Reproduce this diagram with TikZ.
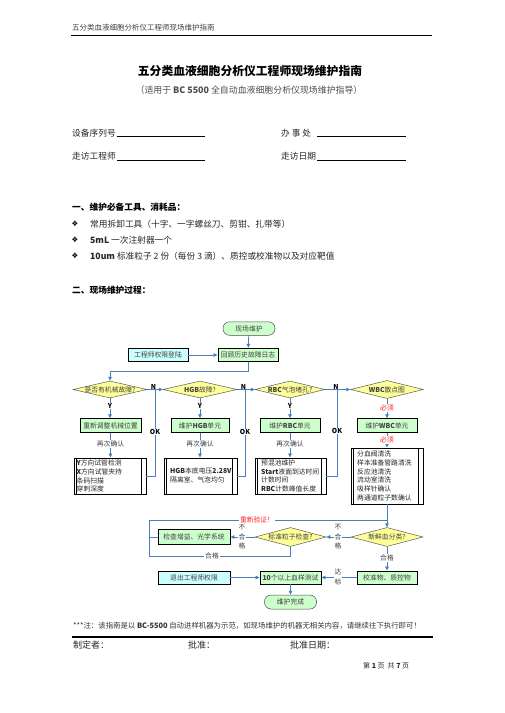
\documentclass[tikz,border=0pt]{standalone}
\usepackage{fontspec}
\setmainfont{Noto Sans CJK SC}
\newfontfamily\dejavu{DejaVu Sans}
\usetikzlibrary{shapes.geometric,arrows.meta}
\definecolor{lgreen}{HTML}{CCFFCC}
\definecolor{lcyan}{HTML}{CCFFFF}
\definecolor{lyellow}{HTML}{FFFF99}
\definecolor{conblue}{HTML}{4A7EBB}
\definecolor{redtxt}{HTML}{FF2020}
\definecolor{txtgray}{HTML}{404040}
\begin{document}
\begin{tikzpicture}[x=1pt,y=-1pt,
  fc/.style={font=\fontsize{6.8}{8.8}\selectfont},
  gbox/.style={draw=black, line width=0.9pt, fill=lgreen, minimum height=13.5, inner sep=0, fc, text=txtgray},
  cbox/.style={gbox, fill=lcyan},
  term/.style={draw=black!70, line width=0.5pt, fill=lgreen, rounded corners=6.5, minimum width=52, minimum height=13.5, inner sep=0, fc, text=txtgray},
  diam/.style={diamond, draw=black!65, line width=0.5pt, fill=lyellow, inner sep=0},
  dtext/.style={fc, text=txtgray, inner sep=0},
  conn/.style={draw=conblue, line width=0.8pt},
  arr/.style={conn, -{Triangle[length=4pt,width=3.6pt]}},
  lab/.style={fill=white, inner sep=0.8pt, fc, text=txtgray},
  yn/.style={inner sep=0.5pt, fc, font=\fontsize{6.8}{8.8}\selectfont\bfseries, text=black},
  redlab/.style={lab, text=redtxt},
  stack/.style={lab, align=center, font=\fontsize{6.8}{9.5}\selectfont},
  predef/.style={draw, line width=0.9pt, fill=white, inner sep=0,
    path picture={\draw[line width=0.9pt]
      ([xshift=2.5pt]path picture bounding box.north west) -- ([xshift=2.5pt]path picture bounding box.south west)
      ([xshift=-4.5pt]path picture bounding box.north east) -- ([xshift=-4.5pt]path picture bounding box.south east);}},
  ltext/.style={fc, align=left, inner sep=0, text=black!85, anchor=west},
  body/.style={font=\fontsize{8.7}{10}\selectfont, inner sep=0, anchor=west, text=black!85},
  uline/.style={line width=0.9pt}
]
\useasboundingbox (0,0) rectangle (504,713);

% header
\node[inner sep=0, anchor=west, font=\fontsize{7.5}{9}\selectfont, text=black!75] (hdr) at (72,28) {五分类血液细胞分析仪工程师现场维护指南};
\draw[line width=0.9pt] (71,35) -- (432,35);

% title
\node[inner sep=0, font=\fontsize{11.8}{14}\selectfont\bfseries] (title) at (250,71) {五分类血液细胞分析仪工程师现场维护指南};
\node[inner sep=0, font=\fontsize{8.9}{11}\selectfont, text=black!70] (subtitle) at (249,90) {（适用于 {\bfseries BC 5500} 全自动血液细胞分析仪现场维护指导）};

% fields
\node[body] (f1) at (72,133) {设备序列号};
\draw[uline] (117,136.5) -- (205,136.5);
\node[body] (f2) at (281,133) {办\ 事\ 处};
\draw[uline] (317,136.5) -- (406,136.5);
\node[body] (f3) at (72,156) {走访工程师};
\draw[uline] (117,160) -- (205,160);
\node[body] (f4) at (281,156) {走访日期};
\draw[uline] (317,160) -- (406,160);

% section 1
\node[body, font=\fontsize{8.7}{10}\selectfont\bfseries, text=black] (s1) at (72,207) {一、维护必备工具、消耗品：};
\node[inner sep=0, font=\dejavu\fontsize{7.5}{9}\selectfont] (bul1) at (75,224) {❖};
\node[inner sep=0, font=\dejavu\fontsize{7.5}{9}\selectfont] (bul2) at (75,240) {❖};
\node[inner sep=0, font=\dejavu\fontsize{7.5}{9}\selectfont] (bul3) at (75,256) {❖};
\node[body] (t1) at (90,224) {常用拆卸工具（十字、一字螺丝刀、剪钳、扎带等）};
\node[body] (t2) at (90,240) {{\bfseries 5mL} 一次注射器一个};
\node[body] (t3) at (90,256) {{\bfseries 10um} 标准粒子 2 份（每份 3 滴）、质控或校准物以及对应靶值};
\node[body, font=\fontsize{8.7}{10}\selectfont\bfseries, text=black] (s2) at (72,290) {二、现场维护过程：};

% flowchart top
\node[term] (start) at (249,328.5) {现场维护};
\node[gbox, minimum width=60] (rev) at (248,355) {回顾历史故障日志};
\node[cbox, minimum width=60] (login) at (158,355) {工程师权限登陆};
\draw[arr] (start) -- (rev);
\draw[arr] (login) -- (rev);

% diamonds
\node[diam, minimum width=74, minimum height=17] (d1) at (110,389.5) {};
\node[dtext] at (d1) {是否有机械故障?};
\node[diam, minimum width=74, minimum height=17] (d2) at (200,389.5) {};
\node[dtext] at (d2) {{\bfseries HGB}故障?};
\node[diam, minimum width=70, minimum height=17] (d3) at (290,389.5) {};
\node[dtext] at (d3) {{\bfseries RBC}气泡堵孔?};
\node[diam, minimum width=73, minimum height=18] (d4) at (387,389.5) {};
\node[dtext] at (d4) {{\bfseries WBC}散点图};

\draw[arr] (rev.south) -- (248,371) -- (110,371) -- (d1.north);
\draw[arr] (d1.east) -- (d2.west);
\draw[arr] (d2.east) -- (d3.west);
\draw[arr] (d3.east) -- (d4.west);

% row boxes
\node[gbox, minimum width=61] (b1) at (110.5,425.5) {重新调整机械位置};
\node[gbox, minimum width=58] (b2) at (200,425.5) {维护{\bfseries HGB}单元};
\node[gbox, minimum width=60] (b3) at (290,425.5) {维护{\bfseries RBC}单元};
\node[gbox, minimum width=60] (b4) at (387,425.5) {维护{\bfseries WBC}单元};

% list boxes
\node[predef, minimum width=72, minimum height=36] (L1) at (110,476) {};
\node[ltext] at (76.5,476) {{\bfseries Y}方向试管检测\\{\bfseries X}方向试管夹持\\条码扫描\\穿刺深度};
\node[predef, minimum width=73, minimum height=36] (L2) at (200.5,476) {};
\node[ltext] at (170,475.5) {{\bfseries HGB}本底电压{\bfseries 2.28V}\\隔离室、气泡均匀};
\node[predef, minimum width=71, minimum height=36] (L3) at (290.5,476) {};
\node[ltext] at (261,476) {预混池维护\\{\bfseries Start}液面到达时间\\计数时间\\{\bfseries RBC}计数峰值长度};
\node[predef, minimum width=72, minimum height=56] (L4) at (387,476) {};
\node[ltext] at (357,476) {分血阀清洗\\样本准备管路清洗\\反应池清洗\\流动室清洗\\吸样针确认\\两通道粒子数确认};

% vertical connectors
\draw[arr] (d1.south) -- (d1.south |- b1.north);
\draw[arr] (d2.south) -- (d2.south |- b2.north);
\draw[arr] (d3.south) -- (d3.south |- b3.north);
\draw[arr] (d4.south) -- (d4.south |- b4.north);
\draw[arr] (b1.south) -- (b1.south |- L1.north);
\draw[arr] (b2.south) -- (b2.south |- L2.north);
\draw[arr] (b3.south) -- (b3.south |- L3.north);
\draw[arr] (b4.south) -- (b4.south |- L4.north);
\node[yn, fill=white] (y1) at (110,406) {Y};
\node[yn, fill=white] (y2) at (200,406) {Y};
\node[yn, fill=white] (y3) at (290,406) {Y};
\node[redlab] (must1) at (387,408) {必须};
\node[lab] (c1) at (110.5,444) {再次确认};
\node[lab] (c2) at (200,444) {再次确认};
\node[lab] (c3) at (290,444) {再次确认};
\node[redlab] (must2) at (387,440) {必须};

% OK returns
\draw[conn] (L1.east) -| (155,389.5);
\draw[conn] (L2.east) -| (245,389.5);
\draw[conn] (L3.east) -| (337,389.5);
\node[yn, fill=white] (ok1) at (155,432) {OK};
\node[yn, fill=white] (ok2) at (245,432) {OK};
\node[yn, fill=white] (ok3) at (337,431) {OK};
\node[yn] (n1) at (153.5,386.5) {N};
\node[yn] (n2) at (243.5,386.5) {N};
\node[yn] (n3) at (336,386.5) {N};

% lower part
\node[diam, minimum width=72, minimum height=19] (d5) at (387,537) {};
\node[dtext] at (d5) {新鲜血分类?};
\node[diam, minimum width=71, minimum height=19] (d6) at (290.5,537) {};
\node[dtext] at (d6) {标准粒子检查?};
\node[gbox, minimum width=72, minimum height=15] (chk) at (194,537) {检查增益、光学系统};
\node[gbox, minimum width=60, minimum height=13] (qc) at (387,577.5) {校准物、质控物};
\node[gbox, minimum width=61, minimum height=13] (test) at (290.5,577.5) {{\bfseries 10}个以上血样测试};
\node[cbox, minimum width=72, minimum height=13] (exit) at (194,577.5) {退出工程师权限};
\node[term, minimum height=14] (end) at (290.5,602) {维护完成};

\draw[arr] (L4.south) -- (d5.north);
\draw[arr] (d5.west) -- (d6.east);
\draw[arr] (d6.west) -- (chk.east);
\draw[conn] (chk.west) -- (149,537);
\draw[conn] (d6.south) -- (290.5,556) -- (149,556) -- (149,520) -- (387,520);
\draw[arr] (d5.south) -- (qc.north);
\draw[arr] (qc.west) -- (test.east);
\draw[arr] (exit.east) -- (test.west);
\draw[arr] (test.south) -- (end.north);

\node[stack] (ng1) at (338,537) {不\\合\\格};
\node[stack] (ng2) at (242,537) {不\\合\\格};
\node[redlab] (reval) at (257,520) {重新验证！};
\node[lab] (ok4) at (212,556) {合格};
\node[lab] (ok5) at (387,558) {合格};
\node[stack] (reach) at (338,577) {达\\标};

% footer
\node[inner sep=0, anchor=west, font=\fontsize{7.4}{9}\selectfont, text=black!80] (note) at (73,626) {***注：该指南是以 {\bfseries BC-5500} 自动进样机器为示范，如现场维护的机器无相关内容，请继续往下执行即可！};
\draw[line width=1.1pt] (72,637) -- (433,637);
\node[body, font=\fontsize{9}{11}\selectfont] (sg1) at (73,645) {制定者：};
\node[body, font=\fontsize{9}{11}\selectfont] (sg2) at (188,645) {批准：};
\node[body, font=\fontsize{9}{11}\selectfont] (sg3) at (290,645) {批准日期：};
\node[body, font=\fontsize{7}{9}\selectfont] (pg) at (363,666) {第 {\bfseries 1} 页\ \ 共 {\bfseries 7} 页};
\end{tikzpicture}
\end{document}
